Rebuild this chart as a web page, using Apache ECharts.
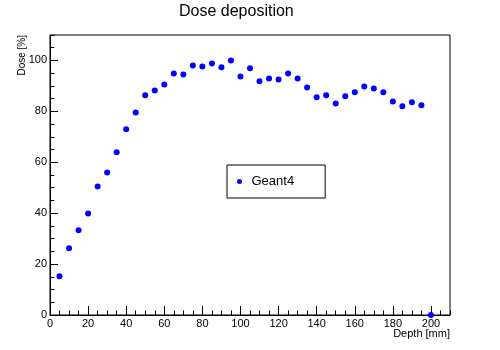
<!DOCTYPE html>
<html>
<head>
<meta charset="utf-8">
<script src="https://cdn.jsdelivr.net/npm/echarts@6/dist/echarts.min.js"></script>
<style>
  html, body { margin: 0; padding: 0; background: #fff; }
  #chart { width: 500px; height: 350px; }
</style>
</head>
<body>
<div id="chart"></div>
<script>
// Depth-dose profile
const depth = [5, 10, 15, 20, 25, 30, 35, 40, 45, 50, 55, 60, 65, 70, 75, 80, 85, 90, 95, 100,
               105, 110, 115, 120, 125, 130, 135, 140, 145, 150, 155, 160, 165, 170, 175, 180, 185, 190, 195, 200];
const dose = [15.2, 26.2, 33.3, 39.9, 50.5, 56.0, 63.9, 73.0, 79.6, 86.3,
              88.2, 90.6, 94.9, 94.5, 98.0, 97.6, 98.8, 97.3, 100.0, 93.7,
              96.9, 91.8, 92.9, 92.5, 94.9, 92.9, 89.4, 85.5, 86.3, 83.1,
              85.9, 87.5, 89.8, 89.0, 87.5, 83.9, 82.0, 83.6, 82.4, 0];

const seriesName = 'Geant4';
const titleText = 'Dose deposition';
const xTitle = 'Depth [mm]';
const yTitle = 'Dose [%]';

const xRange = [0, 210];
const yRange = [0, 110];
const majorStep = 20;
const minorStep = 5;

const FONT = 'Liberation Sans, Helvetica, Arial, sans-serif';

const chart = echarts.init(document.getElementById('chart'), null, { renderer: 'canvas' });

function majorAxis(range, tickLen, extra) {
  return Object.assign({
    type: 'value',
    min: range[0],
    max: range[1],
    interval: majorStep,
    axisLine: { show: true, lineStyle: { color: '#000', width: 1 } },
    axisTick: { show: true, inside: true, length: tickLen, lineStyle: { color: '#000', width: 1 } },
    axisLabel: {
      show: true, color: '#000', fontSize: 11, fontFamily: FONT,
      showMaxLabel: false, margin: 3
    },
    splitLine: { show: false }
  }, extra);
}

function minorAxis(range, tickLen, extra) {
  return Object.assign({
    type: 'value',
    min: range[0],
    max: range[1],
    interval: minorStep,
    axisLine: { show: false },
    axisTick: { show: true, inside: true, length: tickLen, lineStyle: { color: '#000', width: 1 } },
    axisLabel: { show: false },
    splitLine: { show: false }
  }, extra);
}

chart.setOption({
  animation: false,
  backgroundColor: '#fff',
  title: {
    text: titleText,
    left: 179,
    top: 4,
    padding: 0,
    textStyle: { fontSize: 16, fontWeight: 'normal', color: '#000', fontFamily: FONT }
  },
  grid: {
    left: 50, right: 50, top: 35, bottom: 35,
    show: true, borderColor: '#000', borderWidth: 1, backgroundColor: 'transparent'
  },
  legend: {
    left: 227,
    top: 165,
    orient: 'vertical',
    padding: [10, 31, 10, 10],
    borderColor: '#000',
    borderWidth: 1,
    itemWidth: 14,
    itemHeight: 5,
    textStyle: { fontSize: 13, color: '#000', fontFamily: FONT },
    data: [seriesName]
  },
  xAxis: [
    majorAxis(xRange, 9, { position: 'bottom' }),
    minorAxis(xRange, 4.5, { position: 'bottom' })
  ],
  yAxis: [
    majorAxis(yRange, 8, { position: 'left' }),
    minorAxis(yRange, 4.5, { position: 'left' })
  ],
  graphic: [
    {
      type: 'text',
      x: 450, y: 334,
      style: { text: xTitle, fontSize: 11, fontFamily: FONT, fill: '#000', align: 'right', verticalAlign: 'middle' }
    },
    {
      type: 'text',
      x: 22, y: 35,
      rotation: Math.PI / 2,
      style: { text: yTitle, fontSize: 10, fontFamily: FONT, fill: '#000', align: 'right', verticalAlign: 'middle' }
    }
  ],
  series: [{
    name: seriesName,
    type: 'scatter',
    xAxisIndex: 0,
    yAxisIndex: 0,
    symbol: 'circle',
    symbolSize: 6,
    clip: false,
    itemStyle: { color: '#0000ff', opacity: 1 },
    data: depth.map((d, i) => [d, dose[i]]),
    z: 5
  }]
});
</script>
</body>
</html>
